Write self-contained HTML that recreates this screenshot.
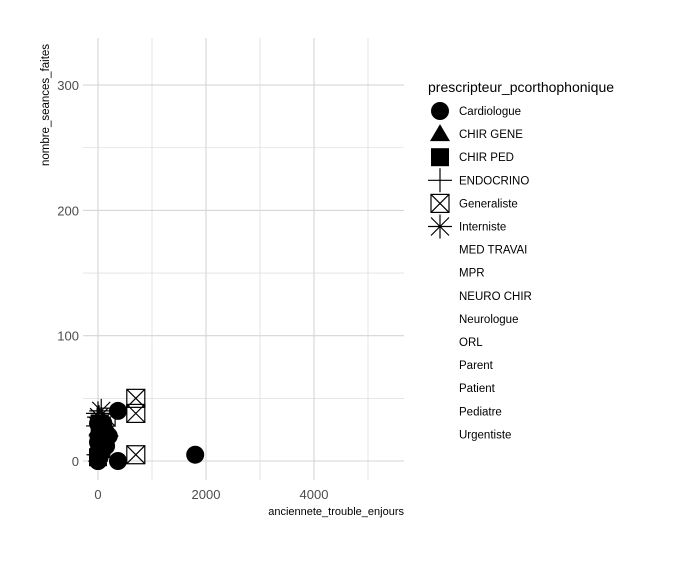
<!DOCTYPE html>
<html><head><meta charset="utf-8"><style>
body{margin:0;background:#fff;font-family:"Liberation Sans",sans-serif}
svg text{font-family:"Liberation Sans",sans-serif}
</style></head><body>
<svg width="677" height="557" id="c">
</svg>
<script>
const tickX=[0,2000,4000];
const tickY=[0,100,200,300];
const cats=["Cardiologue","CHIR GENE","CHIR PED","ENDOCRINO","Generaliste","Interniste","MED TRAVAI","MPR","NEURO CHIR","Neurologue","ORL","Parent","Patient","Pediatre","Urgentiste"];
const xs=[1800,370,370,200,100,50,20,0,0,0,30,60,150,10,0, 200,10,0, 60,0,30,100, 0,50,10, 700,700,700,150,50, 60,20,0, 0,10,0,20,0,0,0,0,0,0,0];
const ys=[5,0,40,20,30,25,10,5,0,15,3,8,12,20,30, 25,10,5, 12,3,30,18, 38,20,5, 50,38,5,35,10, 40,35,28, 6,2,0,1,8,4,3,2,1,0,5];
const grp=[0,0,0,0,0,0,0,0,0,0,0,0,0,0,0, 1,1,1, 2,2,2,2, 3,3,3, 4,4,4,4,4, 5,5,5, 6,7,8,9,10,11,12,13,14,0];
const NS="http://www.w3.org/2000/svg";
const svg=document.getElementById('c');
const L=83,R=404,T=38,B=480;
const sx=v=>98+v*0.054, sy=v=>461-v*1.253;
function mk(t,a,p){const e=document.createElementNS(NS,t);for(const k in a)e.setAttribute(k,a[k]);(p||svg).appendChild(e);return e;}
const grid=mk('g',{});


for(let v=-1000;v<=5500;v+=1000){const x=sx(v);if(x>=L&&x<=R)mk('line',{x1:x,x2:x,y1:T,y2:B,stroke:'#d6d6d6','stroke-width':v%2000===0?1.1:0.6},grid);}
for(let v=-50;v<=350;v+=50){const y=sy(v);if(y>=T&&y<=B)mk('line',{x1:L,x2:R,y1:y,y2:y,stroke:'#d6d6d6','stroke-width':v%100===0?1.1:0.6},grid);}
tickX.forEach(v=>{const t=mk('text',{x:sx(v),y:499,'text-anchor':'middle','font-size':13,fill:'#4d4d4d'});t.textContent=v;});
tickY.forEach(v=>{const t=mk('text',{x:79,y:sy(v)+5,'text-anchor':'end','font-size':13,fill:'#4d4d4d'});t.textContent=v;});
let t=mk('text',{x:404,y:515,'text-anchor':'end','font-size':11});t.textContent='anciennete_trouble_enjours';

t=mk('text',{x:0,y:0,transform:'translate(49,105) rotate(-90)','text-anchor':'middle','font-size':11.5});t.textContent='nombre_seances_faites';

function shape(g,x,y,p){
 if(g===0)mk('circle',{cx:x,cy:y,r:9,fill:'#000'},p);
 else if(g===1)mk('polygon',{points:`${x},${y-10} ${x+10},${y+7} ${x-10},${y+7}`,fill:'#000'},p);
 else if(g===2)mk('rect',{x:x-9,y:y-9,width:18,height:18,fill:'#000'},p);
 else if(g===3){mk('path',{d:`M${x-12} ${y}H${x+12}M${x} ${y-12}V${y+12}`,stroke:'#000','stroke-width':1.2},p);}
 else if(g===4){mk('rect',{x:x-9,y:y-9,width:18,height:18,fill:'none',stroke:'#000','stroke-width':1.2},p);mk('path',{d:`M${x-9} ${y-9}L${x+9} ${y+9}M${x+9} ${y-9}L${x-9} ${y+9}`,stroke:'#000','stroke-width':1.2},p);}
 else if(g===5){mk('path',{d:`M${x-12} ${y}H${x+12}M${x} ${y-12}V${y+12}M${x-9} ${y-9}L${x+9} ${y+9}M${x+9} ${y-9}L${x-9} ${y+9}`,stroke:'#000','stroke-width':1.2},p);}
}
const pts=mk('g',{});


xs.forEach((v,i)=>shape(grp[i],sx(v),sy(ys[i]),pts));
const lg=mk('g',{});


t=mk('text',{x:428,y:92,'font-size':14},lg);t.textContent='prescripteur_pcorthophonique';

cats.forEach((c,i)=>{const y=111+i*23.1;shape(i,440,y,lg);const e=mk('text',{x:459,y:y+4,'font-size':11.5},lg);e.textContent=c;
});
</script>
</body></html>
